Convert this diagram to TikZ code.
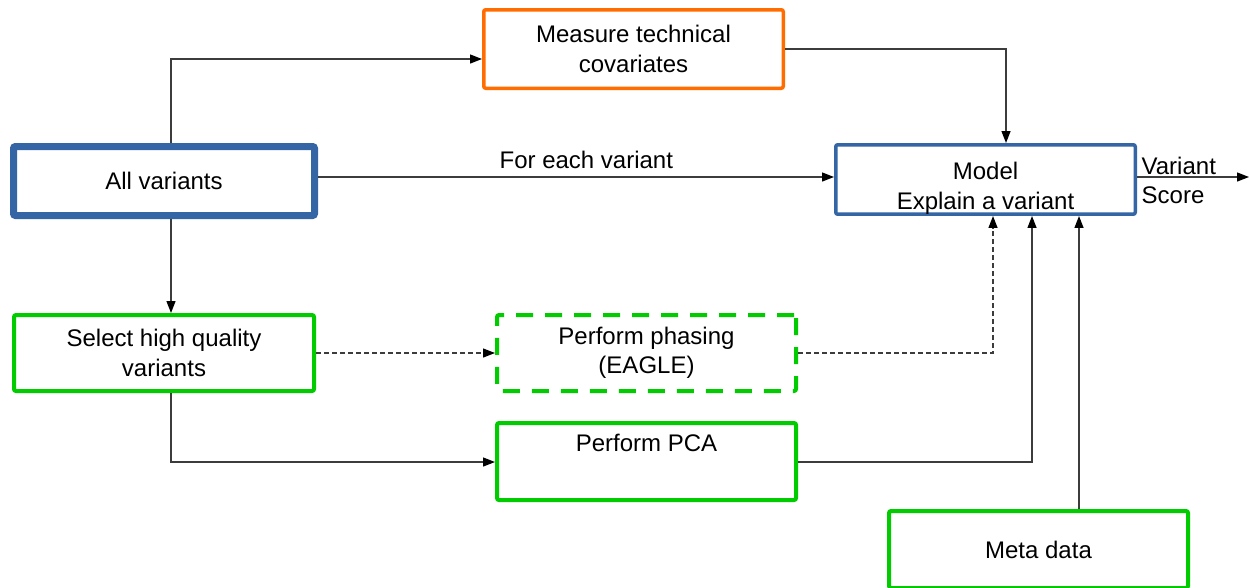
\documentclass[tikz,border=0pt]{standalone}
\usepackage{fontspec}
\setmainfont{Liberation Sans}
\usetikzlibrary{arrows.meta}
\definecolor{cblue}{RGB}{52,101,164}
\definecolor{corange}{RGB}{255,109,1}
\definecolor{cgreen}{RGB}{0,204,0}
\definecolor{cline}{RGB}{60,60,60}
\begin{document}
\begin{tikzpicture}[x=1pt,y=-1pt,
  box/.style={rectangle, rounded corners=2pt, align=center, fill=white, inner sep=0pt,
              font=\fontsize{24}{29.5}\selectfont},
  bluebox/.style={box, draw=cblue},
  orangebox/.style={box, draw=corange, line width=3.5pt},
  greenbox/.style={box, draw=cgreen, line width=4pt},
  arr/.style={draw=cline, line width=1.3pt, -{Triangle[length=12pt,width=9pt,color=black]}},
  dsh/.style={arr, dash pattern=on 5pt off 3pt},
  lbl/.style={font=\fontsize{24}{29}\selectfont, inner sep=0pt}]
\useasboundingbox (0,0) rectangle (1249,587);
\fill[white] (0,0) rectangle (1249,587);

% nodes
\node[orangebox, minimum width=299.5pt, minimum height=78.5pt] (meas) at (633.5,49) {Measure technical\\covariates};
\node[bluebox, line width=7pt, minimum width=301pt, minimum height=69pt] (all) at (164,181) {All variants};
\node[bluebox, line width=3.5pt, minimum width=299.5pt, minimum height=65.5pt] (model) at (985.5,179.5) {\rule{0pt}{35pt}Model\\Explain a variant};
\node[greenbox, minimum width=300pt, minimum height=76pt] (select) at (164,353) {Select high quality\\variants};
\node[greenbox, dash pattern=on 17pt off 12pt, minimum width=299pt, minimum height=76pt] (phase) at (646.5,353) {Perform phasing\\(EAGLE)};
\node[greenbox, minimum width=299pt, minimum height=77pt] (pca) at (646.5,461.5) {Perform PCA\\\strut};
\node[greenbox, minimum width=299pt, minimum height=77pt] (meta) at (1038.5,549.5) {Meta data};

% helper coordinates
\coordinate (cx) at (171,59);
\coordinate (k1) at (1006,49);
\coordinate (k2) at (993,353);
\coordinate (k3) at (1032,462);
\coordinate (k4) at (1079,509);
\coordinate (ly) at (0,177);
\coordinate (out) at (1249,177);

% connectors
\draw[arr] (all.north -| cx) |- (meas.west |- cx);
\draw[arr] (meas.east |- k1) -| (model.north -| k1);
\draw[arr] (all.east |- ly) -- node[lbl, pos=0.52, anchor=base, yshift=9pt] {For each variant} (model.west |- ly);
\draw[arr] (all.south -| cx) -- (select.north -| cx);
\draw[dsh] (select.east) -- (phase.west);
\draw[dsh] (phase.east) -| (model.south -| k2);
\draw[arr] (select.south -| cx) |- (pca.west |- k3);
\draw[arr] (pca.east |- k3) -| (model.south -| k3);
\draw[arr] (meta.north -| k4) -- (model.south -| k4);
\draw[arr] (model.east |- out) -- node[lbl, pos=0, anchor=west, align=left, xshift=4pt, yshift=-3pt] {Variant\\Score} (out);
\end{tikzpicture}
\end{document}
